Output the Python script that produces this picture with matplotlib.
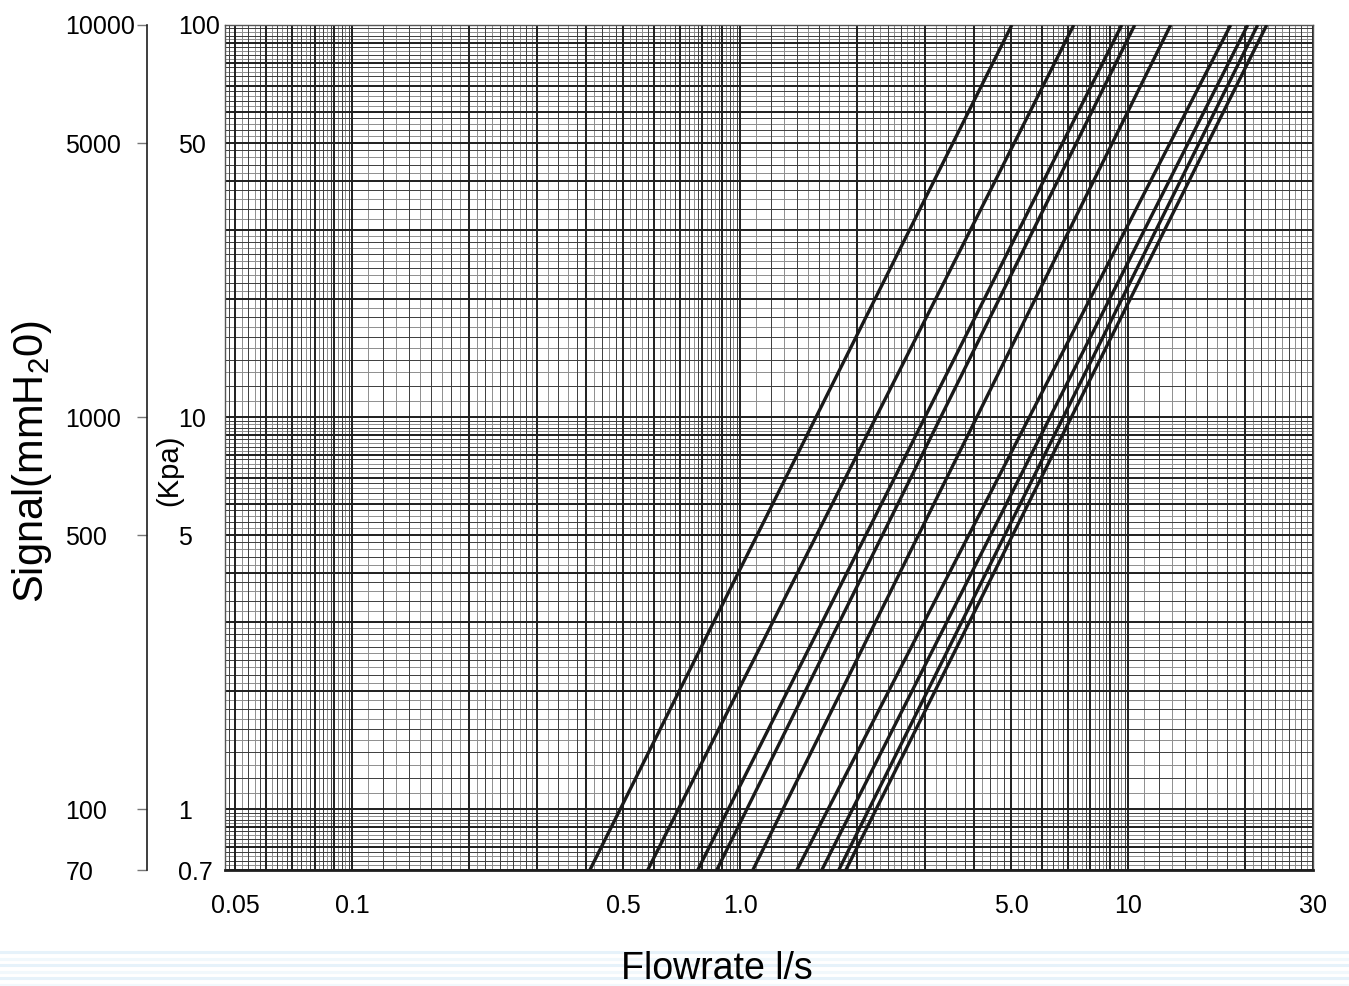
import numpy as np
import matplotlib
matplotlib.use("Agg")
import matplotlib.pyplot as plt
from matplotlib.lines import Line2D
from matplotlib.ticker import NullLocator

plt.rcParams['font.family'] = ['Liberation Sans', 'DejaVu Sans']
plt.rcParams['mathtext.fontset'] = 'custom'
plt.rcParams['mathtext.rm'] = 'Liberation Sans'
plt.rcParams['mathtext.default'] = 'rm'

# pressure range of the chart (kPa) and flow where each curve meets it (l/s)
pressure_ends = [0.7, 100]
flow_at_bottom = [0.410, 0.578, 0.778, 0.871, 1.079, 1.401, 1.625, 1.797, 1.874]
flow_at_top = [5.02, 7.25, 9.64, 10.41, 12.89, 18.40, 20.36, 21.60, 22.79]

x_ticks = [0.05, 0.1, 0.5, 1.0, 5.0, 10, 30]
x_labels = ['0.05', '0.1', '0.5', '1.0', '5.0', '10', '30']
kpa_ticks = [0.7, 1, 5, 10, 50, 100]
kpa_labels = ['0.7', '1', '5', '10', '50', '100']
mmh2o_ticks = [70, 100, 500, 1000, 5000, 10000]
mmh2o_labels = ['70', '100', '500', '1000', '5000', '10000']

W, H = 1349, 986
fig = plt.figure(figsize=(W / 100, H / 100), dpi=100)
L, R, T, B = 225, 1313, 25, 870
ax = fig.add_axes([L / W, 1 - B / H, (R - L) / W, (B - T) / H])
ax.set_xscale('log')
ax.set_yscale('log')
ax.set_xlim(0.047, 30)
ax.set_ylim(0.7, 100)


def paper_lines(lo, hi):
    # log graph paper: bold at integers, alternating dark/light subdivisions
    bold, dark, light = [], [], []
    for e in range(lo, hi + 1):
        d = 10.0 ** e
        for i in range(1, 10):
            bold.append(i * d)
            n = 10 if i <= 2 else 5
            for k in range(1, n):
                v = (i + k / n) * d
                if k % 2 == 0:
                    dark.append(v)
                else:
                    light.append(v)
    return bold, dark, light


xb, xd, xl = paper_lines(-2, 1)
yb, yd, yl = paper_lines(-1, 2)
xf = ax.get_xaxis_transform()
yf = ax.get_yaxis_transform()
ax.vlines(xl, 0, 1, transform=xf, color='#8e8e8e', lw=0.7, zorder=1)
ax.hlines(yl, 0, 1, transform=yf, color='#8e8e8e', lw=0.7, zorder=1)
ax.vlines(xd, 0, 1, transform=xf, color='#3c3c3c', lw=0.7, zorder=1.1)
ax.hlines(yd, 0, 1, transform=yf, color='#3c3c3c', lw=0.7, zorder=1.1)
ax.vlines(xb, 0, 1, transform=xf, color='#1e1e1e', lw=1.4, zorder=1.2)
ax.hlines(yb, 0, 1, transform=yf, color='#1e1e1e', lw=1.4, zorder=1.2)

for q0, q1 in zip(flow_at_bottom, flow_at_top):
    ax.plot([q0, q1], pressure_ends, color='#1a1a1a', lw=2.4,
            solid_capstyle='butt', zorder=3)

for s in ['top', 'right', 'left']:
    ax.spines[s].set_color('#555555')
    ax.spines[s].set_linewidth(1.0)
ax.spines['bottom'].set_color('#1e1e1e')
ax.spines['bottom'].set_linewidth(2.0)

ax.xaxis.set_minor_locator(NullLocator())
ax.yaxis.set_minor_locator(NullLocator())
ax.set_xticks(x_ticks, x_labels)
ax.set_yticks(kpa_ticks, kpa_labels, ha='left')
ax.tick_params(axis='x', length=0, pad=17, labelsize=18)
ax.tick_params(axis='y', length=0, pad=(L - 178) * 0.72, labelsize=18)

sec = ax.secondary_yaxis(-(L - 147) / (R - L),
                         functions=(lambda p: p * 100, lambda p: p / 100))
sec.yaxis.set_minor_locator(NullLocator())
sec.set_yticks(mmh2o_ticks, mmh2o_labels, ha='left')
sec.tick_params(axis='y', length=7, width=1, color='#777777',
                pad=(147 - 7 - 68) * 0.72, labelsize=18)
sec.spines['left'].set_color('#1e1e1e')
sec.spines['left'].set_linewidth(1.2)

fig.text(32 / W, 1 - 461 / H, 'Signal(mmH$_2$0)', rotation=90,
         ha='center', va='center', fontsize=30)
fig.text(169 / W, 1 - 470 / H, '(Kpa)', rotation=90,
         ha='center', va='center', fontsize=21)
fig.text(717 / W, 1 - 979 / H, 'Flowrate l/s', ha='center',
         va='baseline', fontsize=27)

# pale blue stripes along the bottom edge
for i, yy in enumerate(np.arange(952, 987, 6.6)):
    fig.add_artist(Line2D([0, 1], [1 - yy / H] * 2, transform=fig.transFigure,
                          color='#e6f2fa' if i % 2 == 0 else '#f1f8fc',
                          lw=2.2, zorder=0))

fig.savefig('out.png', dpi=100)
